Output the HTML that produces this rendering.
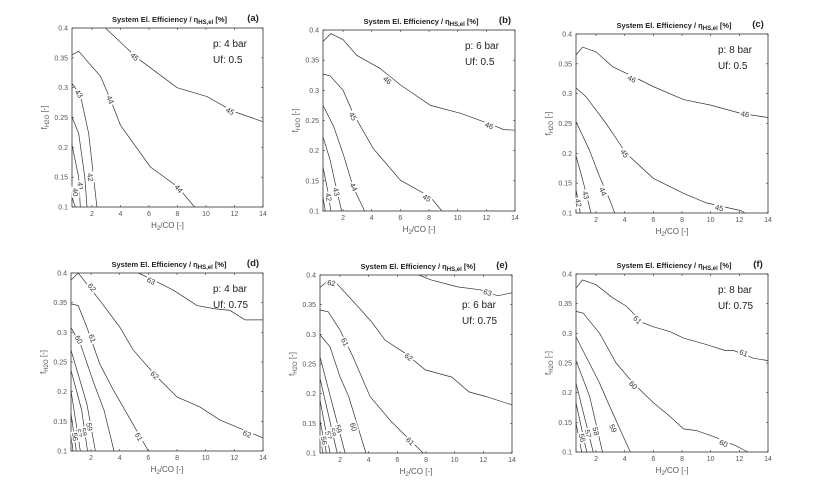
<!DOCTYPE html>
<html><head><meta charset="utf-8"><style>
html,body{margin:0;padding:0;background:#fff;width:824px;height:502px;overflow:hidden}
svg{display:block}
</style></head><body>
<svg id="s" width="824" height="502" xmlns="http://www.w3.org/2000/svg" font-family="Liberation Sans, sans-serif"></svg>
<script>
const S=document.getElementById('s');
const P=[
{b:[72,28,263,207],l:'(a)',p:'p: 4 bar',u:'Uf: 0.5',
c:[[[2.94,.4],[5.16,.35],[7.97,.30],[10.07,.285],[11.94,.26],[14,.243]],
[[.6,.355],[1.07,.361],[2.6,.319],[3.3,.28],[4,.237],[6.1,.167],[8,.134],[9.2,.1]],
[[.6,.307],[1.18,.288],[1.77,.223],[2.35,.1]],
[[.6,.251],[1.07,.223],[1.5,.15],[1.65,.1]],
[[.6,.204],[1.07,.15],[1.18,.1]],
[[.6,.117],[.83,.1]]],
t:[['45',5.0,.352],['45',11.7,.261],['44',3.3,.28],['44',8.1,.131],['43',1.1,.29],['42',1.9,.15],['41',1.2,.135],['40',.85,.125]]},
{b:[323,30,515,211],l:'(b)',p:'p: 6 bar',u:'Uf: 0.5',
c:[[[.6,.381],[1.15,.394],[2,.384],[2.95,.358],[4.6,.336],[6,.309],[8.1,.275],[10.2,.262],[12.5,.242],[13.2,.235],[14,.234]],
[[.6,.327],[1.1,.324],[2,.30],[2.7,.262],[4.1,.204],[6,.151],[8.1,.123],[8.9,.1]],
[[.6,.275],[1.35,.24],[2,.195],[2.7,.14],[3.5,.1]],
[[.6,.223],[1.1,.184],[1.45,.146],[1.9,.1]],
[[.6,.173],[.93,.134],[1.15,.1]],
[[.6,.123],[.76,.1]]],
t:[['46',5.1,.317],['46',12.2,.242],['45',2.7,.257],['45',7.85,.122],['44',2.75,.14],['43',1.55,.132],['42',1.0,.123]]},
{b:[576,34,768,213],l:'(c)',p:'p: 8 bar',u:'Uf: 0.5',
c:[[[.6,.365],[1.06,.378],[2,.37],[3.17,.345],[4.57,.329],[5.98,.312],[8.1,.29],[9.96,.281],[12.1,.267],[14,.26]],
[[.6,.31],[1.3,.295],[2.7,.25],[4.1,.2],[6,.158],[8.1,.133],[9.7,.117],[12.1,.104],[12.4,.1]],
[[.6,.253],[1.53,.206],[2.25,.161],[2.95,.122],[3.3,.1]],
[[.6,.196],[1.06,.156],[1.65,.1]],
[[.6,.139],[.9,.1]]],
t:[['46',4.5,.325],['46',12.4,.266],['45',4,.2],['45',10.6,.109],['44',2.5,.136],['43',1.3,.13],['42',.78,.117]]},
{b:[71,273,263,451],l:'(d)',p:'p: 4 bar',u:'Uf: 0.75',
c:[[[5.3,.4],[6.35,.388],[7.75,.371],[9.4,.345],[10.55,.34],[11.7,.337],[12.75,.321],[14,.321]],
[[.6,.388],[1.1,.4],[2.6,.354],[4,.309],[4.95,.27],[6.4,.23],[8,.191],[9.6,.174],[11,.152],[12.7,.135],[14,.122]],
[[.6,.348],[1.1,.345],[1.7,.309],[2.6,.247],[3.55,.203],[4.5,.163],[6,.1]],
[[.6,.308],[1.25,.281],[2.2,.214],[2.9,.169],[3.6,.1]],
[[.6,.27],[1.7,.18],[2.3,.1]],
[[.6,.236],[1.35,.169],[1.75,.1]],
[[.6,.202],[1.25,.1]],
[[.6,.163],[.97,.1]],
[[.6,.13],[.74,.1]]],
t:[['63',6.2,.387],['62',2.07,.376],['62',6.45,.228],['62',12.9,.129],['61',2.1,.29],['61',5.35,.124],['60',1.15,.288],['59',1.9,.141],['58',1.5,.132],['57',1.15,.13],['56',.9,.124]]},
{b:[320,275,512,453],l:'(e)',p:'p: 6 bar',u:'Uf: 0.75',dy:14,
c:[[[7.5,.4],[8.3,.392],[10.2,.38],[11.8,.375],[13,.365],[14,.37]],
[[.6,.379],[1.1,.389],[1.75,.386],[3.05,.352],[4.2,.321],[5.15,.29],[6.55,.268],[7.95,.24],[9.8,.228],[11,.203],[12.2,.195],[14,.181]],
[[.6,.341],[1.17,.338],[2,.307],[2.9,.262],[4.1,.195],[5.5,.155],[6.9,.121],[7.8,.1]],
[[.6,.299],[1.3,.279],[2,.228],[2.6,.195],[3.8,.1]],
[[.6,.262],[1.65,.165],[2.35,.1]],
[[.6,.226],[1.8,.1]],
[[.6,.189],[1.3,.1]],
[[.6,.155],[1.05,.1]],
[[.6,.127],[.8,.1]]],
t:[['62',1.4,.387],['63',12.3,.371],['62',6.8,.262],['61',2.35,.287],['61',6.9,.12],['60',2.95,.144],['59',1.9,.141],['58',1.5,.135],['57',1.2,.13],['56',.9,.121]]},
{b:[576,274,768,452],l:'(f)',p:'p: 8 bar',u:'Uf: 0.75',
c:[[[.6,.376],[1.05,.39],[2,.382],[3.15,.36],[4.1,.346],[5.25,.318],[6,.311],[7.15,.303],[8.1,.292],[9.7,.281],[11,.271],[11.6,.271],[13,.258],[14,.254]],
[[.6,.337],[1.1,.334],[2.25,.3],[3.4,.25],[4.6,.216],[6,.183],[7.15,.16],[8.1,.139],[9,.136],[10.2,.126],[11.8,.11],[12.6,.1]],
[[.6,.294],[1.3,.261],[2.25,.216],[2.95,.177],[3.9,.126],[4.4,.1]],
[[.6,.254],[1.55,.194],[2.45,.1]],
[[.6,.216],[1.8,.1]],
[[.6,.183],[1.35,.1]],
[[.6,.149],[1,.1]]],
t:[['61',4.9,.323],['61',12.3,.267],['60',4.6,.213],['60',10.9,.115],['59',3.2,.14],['58',2,.135],['57',1.45,.131],['56',1.05,.124]]}
];
let h='';
for(const q of P){
 const [x0,y0,x1,y1]=q.b;
 const X=v=>x0+(v-0.6)/(14-0.6)*(x1-x0), Y=v=>y1-(v-0.1)/0.3*(y1-y0);
 const cx=(x0+x1)/2;
 h+=`<text x="${cx+2}" y="${y0-6}" text-anchor="middle" font-size="7.5" font-weight="bold" fill="#222">System El. Efficiency / η<tspan font-size="6" dy="2">HS,el</tspan><tspan dy="-2"> [%]</tspan></text>`;
 h+=`<text x="${x1-10}" y="${y0-7}" text-anchor="middle" font-size="9.5" font-weight="bold" fill="#222">${q.l}</text>`;
 h+=`<rect x="${x0}" y="${y0}" width="${x1-x0}" height="${y1-y0}" fill="none" stroke="#333" stroke-width="0.8"/>`;
 for(let v=2;v<=14;v+=2){const x=X(v);h+=`<line x1="${x}" y1="${y1}" x2="${x}" y2="${y1-2}" stroke="#333" stroke-width=".6"/><line x1="${x}" y1="${y0}" x2="${x}" y2="${y0+2}" stroke="#333" stroke-width=".6"/><text x="${x}" y="${y1+9}" text-anchor="middle" font-size="7" fill="#555">${v}</text>`;}
 for(let i=0;i<=6;i++){const v=0.1+i*0.05;const y=Y(v);h+=`<line x1="${x0}" y1="${y}" x2="${x0+2}" y2="${y}" stroke="#333" stroke-width=".6"/><line x1="${x1}" y1="${y}" x2="${x1-2}" y2="${y}" stroke="#333" stroke-width=".6"/><text x="${x0-4}" y="${y+2.5}" text-anchor="end" font-size="7" fill="#555">${+v.toFixed(2)}</text>`;}
 h+=`<text x="${cx}" y="${y1+21}" text-anchor="middle" font-size="8" fill="#555">H<tspan font-size="6" dy="2">2</tspan><tspan dy="-2">/CO [-]</tspan></text>`;
 const ly=(y0+y1)/2;
 h+=`<text transform="translate(${x0-25},${ly}) rotate(-90)" text-anchor="middle" font-size="8" fill="#555">f<tspan font-size="6" dy="2">H2O</tspan><tspan dy="-2"> [-]</tspan></text>`;
 const d=q.dy||0;
 h+=`<text x="${x1-50}" y="${y0+19+d}" font-size="10" fill="#222">${q.p}</text><text x="${x1-50}" y="${y0+35+d}" font-size="10" fill="#222">${q.u}</text>`;
 const segs=[];
 for(const c of q.c){const pts=c.map(p=>[X(p[0]),Y(p[1])]);segs.push(pts);
  h+=`<polyline points="${pts.map(p=>p[0].toFixed(1)+','+p[1].toFixed(1)).join(' ')}" fill="none" stroke="#333" stroke-width=".7"/>`;}
 for(const [s,vx,vy] of q.t){
  const px=X(vx),py=Y(vy);let best=1e9,ang=0;
  for(const pts of segs)for(let i=0;i<pts.length-1;i++){const [ax,ay]=pts[i],[bx,by]=pts[i+1];const dx=bx-ax,dy=by-ay;const L=dx*dx+dy*dy||1;let t=((px-ax)*dx+(py-ay)*dy)/L;t=Math.max(0,Math.min(1,t));const dd=Math.hypot(ax+t*dx-px,ay+t*dy-py);if(dd<best){best=dd;ang=Math.atan2(dy,dx)*180/Math.PI;}}
  if(ang>90)ang-=180;if(ang<-90)ang+=180;
  h+=`<g transform="translate(${px},${py}) rotate(${ang})"><rect x="-5.5" y="-4" width="11" height="8" fill="#fff"/><text y="2.8" text-anchor="middle" font-size="7.5" fill="#333">${s}</text></g>`;
 }
}
S.innerHTML=h;
</script>
</body></html>
